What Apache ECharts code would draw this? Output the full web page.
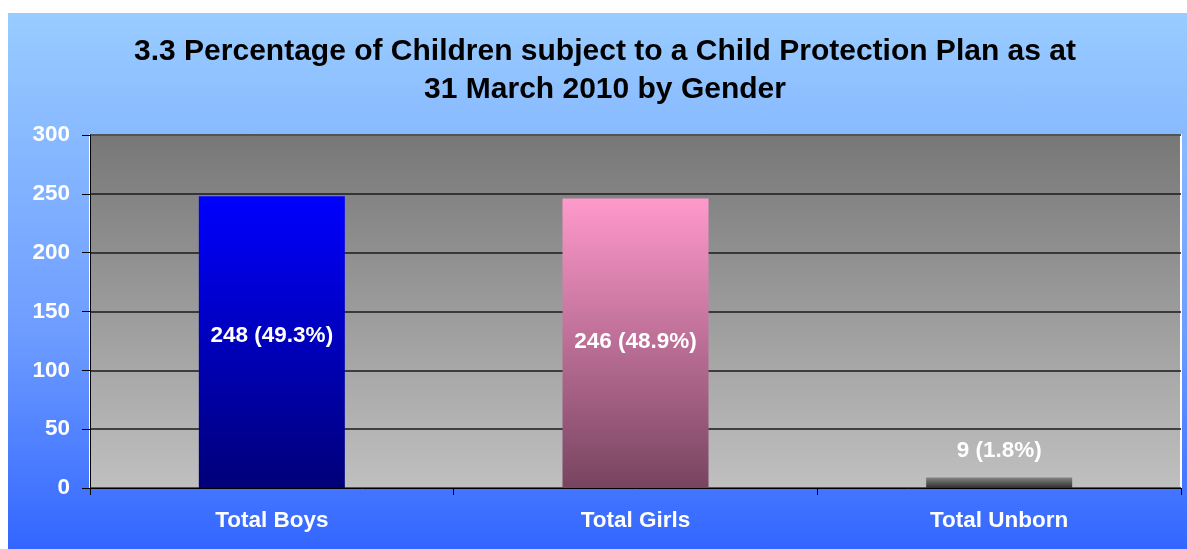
<!DOCTYPE html>
<html>
<head>
<meta charset="utf-8">
<script src="https://cdn.jsdelivr.net/npm/echarts@6/dist/echarts.min.js"></script>
<style>
html, body { margin: 0; padding: 0; background: #ffffff; width: 1187px; height: 549px; overflow: hidden; }
#frame { position: absolute; left: 8px; top: 13px; width: 1179px; height: 536px;
  background: linear-gradient(to bottom, #99ccff 0%, #6d9cff 60%, #3366ff 100%); }
#chart { width: 1179px; height: 536px; }
</style>
</head>
<body>
<div id="frame"><div id="chart"></div></div>
<script>
const titleLines = ['3.3 Percentage of Children subject to a Child Protection Plan as at', '31 March 2010 by Gender'];
const categories = ['Total Boys', 'Total Girls', 'Total Unborn'];
const values = [248, 246, 9];
const percents = ['49.3%', '48.9%', '1.8%'];
const yTicks = { min: 0, max: 300, interval: 50 };

const FONT = '"Liberation Sans", Arial, sans-serif';
const gradients = [
  ['#0000ff', '#000078'],
  ['#ff99cc', '#784460'],
  ['#858585', '#2e2e2e']
];
const labelOffsets = [[0, -6], [0, -1], null];
const chart = echarts.init(document.getElementById('chart'), null, { renderer: 'canvas' });
chart.setOption({
  backgroundColor: 'transparent',
  animation: false,
  title: {
    text: titleLines.join('\n'),
    left: 592, top: 15, textAlign: 'center',
    textStyle: { fontFamily: FONT, fontWeight: 'bold', fontSize: 30, color: '#000', lineHeight: 38 }
  },
  grid: {
    left: 82, right: 6, top: 122, bottom: 61, show: true,
    backgroundColor: new echarts.graphic.LinearGradient(0, 0, 0, 1, [
      { offset: 0, color: '#777777' }, { offset: 1, color: '#c0c0c0' }
    ]),
    borderColor: '#ffffff', borderWidth: 2
  },
  xAxis: {
    type: 'category', data: categories,
    axisLine: { lineStyle: { color: '#000', width: 1 } },
    axisTick: { show: true, length: 7, lineStyle: { color: '#000' } },
    axisLabel: { color: '#fff', fontFamily: FONT, fontWeight: 'bold', fontSize: 22.5, margin: 21 }
  },
  yAxis: {
    type: 'value', min: yTicks.min, max: yTicks.max, interval: yTicks.interval,
    axisLine: { show: true, lineStyle: { color: '#000', width: 1 } },
    axisTick: { show: true, length: 8, lineStyle: { color: '#000' } },
    axisLabel: { color: '#fff', fontFamily: FONT, fontWeight: 'bold', fontSize: 22.5, margin: 20 },
    splitLine: { show: true, lineStyle: { color: '#1a1a1a', width: 1.5 } }
  },
  series: [{
    type: 'bar', barWidth: 146,
    data: values.map((v, i) => ({
      value: v,
      itemStyle: { color: new echarts.graphic.LinearGradient(0, 0, 0, 1, [
        { offset: 0, color: gradients[i][0] }, { offset: 1, color: gradients[i][1] }
      ]) },
      label: labelOffsets[i] === null
        ? { show: true, position: 'top', distance: 15 }
        : { show: true, position: 'inside', offset: labelOffsets[i] }
    })),
    label: {
      color: '#fff', fontFamily: FONT, fontWeight: 'bold', fontSize: 22.5,
      formatter: p => values[p.dataIndex] + ' (' + percents[p.dataIndex] + ')'
    }
  }]
});
</script>
</body>
</html>
